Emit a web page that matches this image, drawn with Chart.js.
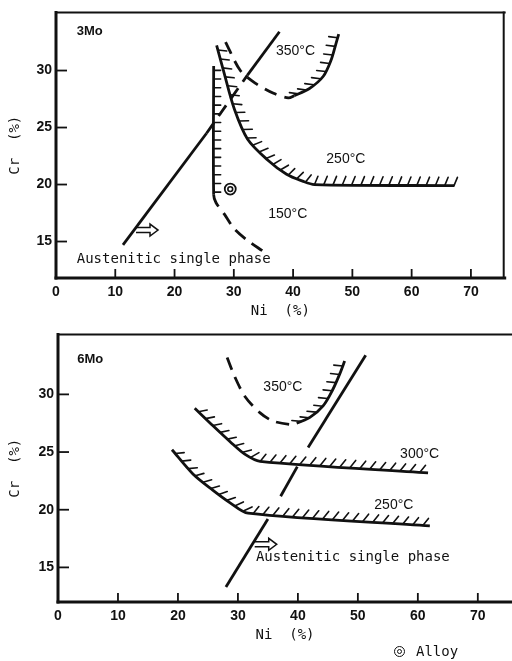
<!DOCTYPE html>
<html>
<head>
<meta charset="utf-8">
<script src="https://cdn.jsdelivr.net/npm/chart.js@4.4.0/dist/chart.umd.min.js"></script>
<style>
  body { margin: 0; background: #fff; width: 512px; height: 661px; position: relative; overflow: hidden; }
  .panel { position: absolute; left: 0; width: 512px; }
  #top { top: 0; height: 322px; }
  #bottom { top: 322px; height: 339px; }
  .legend { position: absolute; top: 643px; font: 14px "DejaVu Sans Mono"; color: #111; }
  .ring { position: absolute; left: 394px; top: 646px; width: 9px; height: 9px; border: 1.8px solid #111; border-radius: 50%; }
  .dot { position: absolute; left: 1.5px; top: 1.5px; width: 3px; height: 3px; border: 1.5px solid #111; border-radius: 50%; }
</style>
</head>
<body>
<div class="panel" id="top"><canvas id="chart3Mo"></canvas></div>
<div class="panel" id="bottom"><canvas id="chart6Mo"></canvas></div>
<div class="ring"><div class="dot"></div></div>
<span class="legend" style="left:416px">Alloy</span>
<script>
// axis ticks
var xTicks = [0, 10, 20, 30, 40, 50, 60, 70];
var yTicks = [15, 20, 25, 30];

// 3Mo panel (Ni %, Cr %)
var mo3Austenitic = [{x: 11.3, y: 14.7}, {x: 25.4, y: 24.5}, {x: 32.3, y: 29.6}, {x: 37.7, y: 33.4}];
var mo3Line150 = [{x: 26.6, y: 30.4}, {x: 26.6, y: 19.1}, {x: 27.0, y: 18.4}, {x: 28.4, y: 17.4},
                  {x: 30.1, y: 16.1}, {x: 32.3, y: 15.1}, {x: 34.8, y: 14.2}];
var mo3Line250 = [{x: 27.1, y: 32.2}, {x: 28.4, y: 29.7}, {x: 30.1, y: 26.6}, {x: 32.3, y: 24.0},
                  {x: 35.6, y: 22.2}, {x: 38.9, y: 20.9}, {x: 41.6, y: 20.3}, {x: 43.6, y: 20.0},
                  {x: 67.2, y: 19.9}];
var mo3Line350 = [{x: 28.6, y: 32.5}, {x: 31.1, y: 30.0}, {x: 33.6, y: 28.9}, {x: 36.7, y: 28.0},
                  {x: 39.2, y: 27.6}, {x: 40.2, y: 27.8}, {x: 42.7, y: 28.4}, {x: 45.1, y: 29.5},
                  {x: 46.4, y: 30.9}, {x: 47.2, y: 32.3}, {x: 47.7, y: 33.2}];
var mo3Alloy = [{x: 29.4, y: 19.6}];

// 6Mo panel
var mo6Austenitic = [{x: 28.0, y: 13.3}, {x: 35.0, y: 19.2}, {x: 41.7, y: 25.4}, {x: 51.3, y: 33.4}];
var mo6Line350 = [{x: 28.2, y: 33.2}, {x: 29.5, y: 31.5}, {x: 31.2, y: 29.8}, {x: 33.7, y: 28.4},
                  {x: 35.8, y: 27.7}, {x: 38.7, y: 27.4}, {x: 39.8, y: 27.5}, {x: 42.0, y: 28.0},
                  {x: 44.2, y: 29.0}, {x: 45.8, y: 30.4}, {x: 47.0, y: 31.8}, {x: 47.8, y: 32.9}];
var mo6Line300 = [{x: 22.8, y: 28.8}, {x: 25.8, y: 27.3}, {x: 28.7, y: 25.9}, {x: 31.2, y: 24.8},
                  {x: 33.7, y: 24.2}, {x: 61.7, y: 23.2}];
var mo6Line250 = [{x: 19.0, y: 25.2}, {x: 22.5, y: 23.1}, {x: 25.8, y: 21.7}, {x: 28.7, y: 20.6},
                  {x: 31.7, y: 19.7}, {x: 62.0, y: 18.6}];

var INK = '#111';
var MONO = '"DejaVu Sans Mono", monospace';
var SANS = '"Liberation Sans", Arial, sans-serif';

function curve(data, o) {
  o = o || {};
  var dash = o.dash || [13, 8];
  return {
    data: data,
    showLine: true,
    borderColor: INK,
    borderWidth: 2.8,
    pointRadius: 0,
    pointHoverRadius: 0,
    tension: o.tension == null ? 0.3 : o.tension,
    segment: {
      borderDash: function(c) { return o.dashed && o.dashed.indexOf(c.p0DataIndex) >= 0 ? dash : undefined; },
      borderDashOffset: function(c) { return o.dashOffset || 0; }
    },
    hatch: o.hatch || null
  };
}

// double ring marker: inner ring listed first so it is drawn on top
function alloyMarks(data) {
  return [
    {data: data, pointRadius: 2.4, pointBorderWidth: 1.6, borderColor: INK, backgroundColor: '#fff'},
    {data: data, pointRadius: 5.5, pointBorderWidth: 1.8, borderColor: INK, backgroundColor: 'rgba(0,0,0,0)'}
  ];
}

// short hatch strokes along a curve
var hatchPlugin = {
  id: 'hatch',
  afterDatasetsDraw: function(chart) {
    var ctx = chart.ctx;
    chart.data.datasets.forEach(function(ds, i) {
      var h = ds.hatch;
      if (!h) return;
      var pts = chart.getDatasetMeta(i).data;
      var from = h.from || 0, to = h.to == null ? pts.length - 1 : h.to;
      ctx.save();
      ctx.strokeStyle = INK;
      ctx.lineWidth = 1.6;
      ctx.lineCap = 'round';
      var carry = h.spacing / 2;
      for (var k = from; k < to; k++) {
        var a = pts[k], b = pts[k + 1];
        var dx = b.x - a.x, dy = b.y - a.y, len = Math.hypot(dx, dy);
        if (!len) continue;
        var tx = dx / len, ty = dy / len;
        var nx = ty, ny = -tx, hx, hy;
        if (h.dir) {
          var m = Math.hypot(h.dir[0], h.dir[1]);
          hx = h.dir[0] / m; hy = h.dir[1] / m;
        } else {
          var ang = (h.angle || 0) * Math.PI / 180;
          hx = Math.cos(ang) * nx + Math.sin(ang) * tx;
          hy = Math.cos(ang) * ny + Math.sin(ang) * ty;
        }
        var s = carry;
        while (s <= len) {
          var px = a.x + tx * s, py = a.y + ty * s;
          ctx.beginPath();
          ctx.moveTo(px, py);
          ctx.lineTo(px + hx * h.len, py + hy * h.len);
          ctx.stroke();
          s += h.spacing;
        }
        carry = s - len;
      }
      ctx.restore();
    });
  }
};

// box frame and inward ticks
var framePlugin = {
  id: 'frame',
  afterDraw: function(chart, args, opts) {
    var a = chart.chartArea, ctx = chart.ctx;
    function line(x1, y1, x2, y2) { ctx.beginPath(); ctx.moveTo(x1, y1); ctx.lineTo(x2, y2); ctx.stroke(); }
    ctx.save();
    ctx.strokeStyle = INK;
    ctx.lineCap = 'square';
    ctx.lineWidth = 3;
    line(a.left, a.top, a.left, a.bottom);
    line(a.left, a.bottom, a.right, a.bottom);
    ctx.lineWidth = 2;
    line(a.left, a.top, a.right, a.top);
    if (opts.right) line(a.right - 1, a.top, a.right - 1, a.bottom);
    ctx.lineWidth = 1.8;
    ctx.lineCap = 'butt';
    xTicks.forEach(function(v) {
      if (v === 0) return;
      var px = chart.scales.x.getPixelForValue(v);
      line(px, a.bottom, px, a.bottom - 9);
    });
    yTicks.forEach(function(v) {
      var py = chart.scales.y.getPixelForValue(v);
      line(a.left, py, a.left + 11, py);
    });
    ctx.restore();
  }
};

// text labels and hollow arrows placed in data units
var labelPlugin = {
  id: 'labels',
  afterDraw: function(chart, args, opts) {
    var ctx = chart.ctx, sx = chart.scales.x, sy = chart.scales.y;
    ctx.save();
    ctx.fillStyle = INK;
    ctx.strokeStyle = INK;
    ctx.textBaseline = 'middle';
    (opts.items || []).forEach(function(it) {
      var x = sx.getPixelForValue(it.x), y = sy.getPixelForValue(it.y);
      if (it.arrow) {
        ctx.lineWidth = 1.5;
        ctx.beginPath();
        ctx.moveTo(x, y - 2.5); ctx.lineTo(x + 14, y - 2.5); ctx.lineTo(x + 14, y - 6);
        ctx.lineTo(x + 22, y); ctx.lineTo(x + 14, y + 6); ctx.lineTo(x + 14, y + 2.5);
        ctx.lineTo(x, y + 2.5);
        ctx.stroke();
        return;
      }
      ctx.font = it.font;
      ctx.textAlign = it.align || 'center';
      ctx.fillText(it.text, x, y);
    });
    ctx.restore();
  }
};

var tempFont = '14px ' + SANS;
var panelFont = 'bold 13px ' + SANS;
var monoFont = '14px ' + MONO;

function makeChart(id, datasets, cfg) {
  return new Chart(document.getElementById(id), {
    type: 'scatter',
    data: {datasets: datasets},
    plugins: [hatchPlugin, framePlugin, labelPlugin],
    options: {
      responsive: true,
      maintainAspectRatio: false,
      animation: false,
      layout: {padding: {top: cfg.padTop, right: cfg.padRight, left: 0, bottom: 0}},
      plugins: {
        legend: {display: false},
        tooltip: {enabled: false},
        frame: {right: cfg.rightBorder},
        labels: {items: cfg.labels}
      },
      scales: {
        x: {
          type: 'linear', min: 0, max: cfg.xMax,
          afterBuildTicks: function(s) { s.ticks = xTicks.map(function(v) { return {value: v}; }); },
          afterFit: function(s) { s.height = cfg.xHeight; },
          grid: {display: false, drawTicks: false},
          border: {display: false},
          ticks: {color: INK, font: {family: SANS, size: 14, weight: 'bold'}, padding: 6, maxRotation: 0, autoSkip: false},
          title: {display: true, text: 'Ni  (%)', color: INK, font: {family: MONO, size: 14},
                  padding: {top: 0, bottom: cfg.xTitlePad}}
        },
        y: {
          type: 'linear', min: cfg.yMin, max: cfg.yMax,
          afterBuildTicks: function(s) { s.ticks = yTicks.map(function(v) { return {value: v}; }); },
          afterFit: function(s) { s.width = cfg.yWidth; },
          grid: {display: false, drawTicks: false},
          border: {display: false},
          ticks: {color: INK, font: {family: SANS, size: 14, weight: 'bold'}, padding: 4, autoSkip: false},
          title: {display: true, text: 'Cr  (%)', color: INK, font: {family: MONO, size: 14},
                  padding: {top: 7, bottom: 0}}
        }
      }
    }
  });
}

makeChart('chart3Mo', [
  curve(mo3Austenitic, {dashed: [1], tension: 0}),
  curve(mo3Line150, {dashed: [1, 2, 3, 4, 5], hatch: {from: 0, to: 1, len: 7, spacing: 8.7, angle: 0}}),
  curve(mo3Line250, {hatch: {len: 9, spacing: 9.3, angle: 22}}),
  curve(mo3Line350, {dashed: [0, 1, 2, 3, 4], hatch: {from: 5, dir: [-1, -0.12], len: 9, spacing: 9}})
].concat(alloyMarks(mo3Alloy)), {
  padTop: 8, padRight: 0, rightBorder: true,
  xMax: 75.7, yMin: 11.8, yMax: 35.1, xHeight: 44, yWidth: 56, xTitlePad: 2,
  labels: [
    {text: '3Mo', x: 3.5, y: 33.4, align: 'left', font: panelFont},
    {text: '350°C', x: 40.4, y: 31.7, font: tempFont},
    {text: '250°C', x: 48.9, y: 22.2, font: tempFont},
    {text: '150°C', x: 39.1, y: 17.4, font: tempFont},
    {text: 'Austenitic single phase', x: 3.5, y: 13.4, align: 'left', font: monoFont},
    {arrow: true, x: 13.5, y: 16.0}
  ]
});

makeChart('chart6Mo', [
  curve(mo6Austenitic, {dashed: [1], tension: 0, dash: [34, 26], dashOffset: 34}),
  curve(mo6Line350, {dashed: [0, 1, 2, 3, 4, 5], hatch: {from: 6, dir: [-1, -0.1], len: 9, spacing: 9}}),
  curve(mo6Line300, {hatch: {len: 9, spacing: 10, angle: 35}}),
  curve(mo6Line250, {hatch: {len: 9, spacing: 10, angle: 35}})
], {
  padTop: 4, padRight: 0, rightBorder: false,
  xMax: 75.7, yMin: 12, yMax: 35.2, xHeight: 59, yWidth: 58, xTitlePad: 17,
  labels: [
    {text: '6Mo', x: 3.2, y: 33.0, align: 'left', font: panelFont},
    {text: '350°C', x: 37.5, y: 30.6, font: tempFont},
    {text: '300°C', x: 60.3, y: 24.8, font: tempFont},
    {text: '250°C', x: 56.0, y: 20.4, font: tempFont},
    {text: 'Austenitic single phase', x: 33.0, y: 15.9, align: 'left', font: monoFont},
    {arrow: true, x: 32.8, y: 17.0}
  ]
});
</script>
</body>
</html>
